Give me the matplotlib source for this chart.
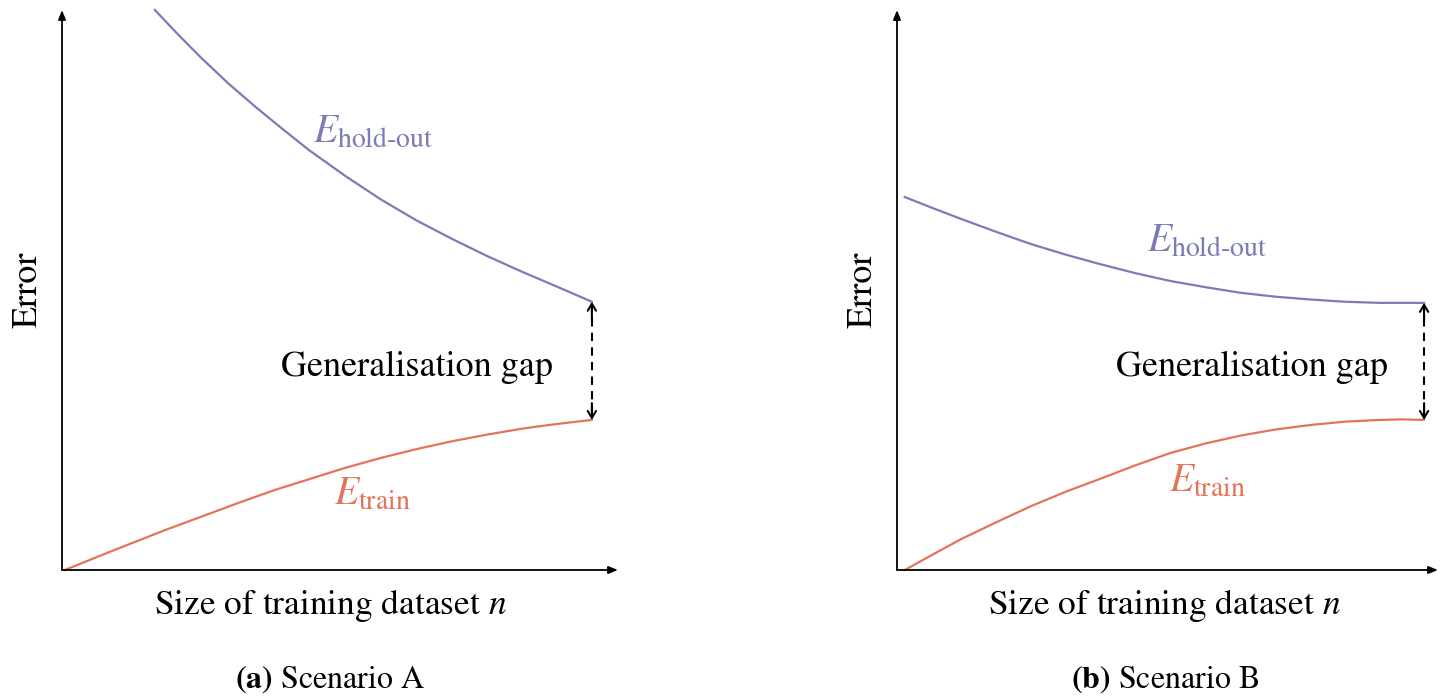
import matplotlib
matplotlib.use("Agg")
import matplotlib.pyplot as plt

plt.rcParams['font.family'] = ['STIXGeneral', 'DejaVu Serif']
plt.rcParams['mathtext.fontset'] = 'stix'

# curves (x: dataset size, y: error, arbitrary units)
a_hold_x = [1.67, 2.09, 2.51, 2.99, 3.48, 3.96, 4.44, 5.09, 5.73, 6.38, 7.02,
            7.66, 8.31, 8.95, 9.53]
a_hold_y = [10.0, 9.56, 9.14, 8.69, 8.27, 7.88, 7.50, 7.04, 6.62, 6.24, 5.91,
            5.60, 5.31, 5.04, 4.79]
a_train_x = [0.05, 0.95, 1.86, 2.50, 3.15, 3.80, 4.44, 5.08, 5.73, 6.38, 7.02,
             7.66, 8.31, 8.92, 9.53]
a_train_y = [0.0, 0.36, 0.715, 0.95, 1.19, 1.42, 1.62, 1.82, 2.00, 2.16, 2.30,
             2.42, 2.53, 2.61, 2.68]

b_hold_x = [0.14, 0.65, 1.15, 1.78, 2.41, 3.04, 3.66, 4.29, 4.92, 5.55, 6.18,
            6.81, 7.44, 8.06, 8.69, 9.48]
b_hold_y = [6.66, 6.46, 6.27, 6.04, 5.82, 5.63, 5.46, 5.30, 5.16, 5.05, 4.95,
            4.88, 4.83, 4.79, 4.77, 4.77]
b_train_x = [0.14, 0.65, 1.15, 1.78, 2.41, 3.04, 3.66, 4.29, 4.92, 5.55, 6.18,
             6.81, 7.44, 8.06, 8.69, 9.08, 9.48]
b_train_y = [0.0, 0.28, 0.55, 0.85, 1.14, 1.40, 1.63, 1.87, 2.09, 2.26, 2.40,
             2.51, 2.59, 2.65, 2.68, 2.69, 2.68]

hold_color = '#7b7bb6'
train_color = '#e4735b'

W, H = 1441, 699
fig = plt.figure(figsize=(W / 100, H / 100), dpi=100)


def draw_panel(rect, xmax, hx, hy, tx, ty, hold_pos, train_pos, gap_pos,
               xlab_x, sub_x, tag, name):
    ax = fig.add_axes(rect)
    ax.set_xlim(0, xmax)
    ax.set_ylim(0, 10)
    for s in ax.spines.values():
        s.set_visible(False)
    ax.set_xticks([])
    ax.set_yticks([])
    ax.patch.set_alpha(0)

    # axes with arrow heads
    ap = dict(arrowstyle='-|>,head_length=0.55,head_width=0.22', color='black',
              lw=1.3, shrinkA=0, shrinkB=0)
    ax.annotate('', xy=(1, 0), xytext=(0, 0), xycoords='axes fraction', arrowprops=ap)
    ax.annotate('', xy=(0, 1), xytext=(0, 0), xycoords='axes fraction', arrowprops=ap)

    ax.plot(hx, hy, color=hold_color, lw=1.6, clip_on=False)
    ax.plot(tx, ty, color=train_color, lw=1.6, clip_on=False)

    # dashed gap arrow between curve ends
    gx = hx[-1]
    ax.plot([gx, gx], [ty[-1] + 0.1, hy[-1] - 0.1], color='black', lw=1.5,
            linestyle=(0, (4, 3)))
    hp = dict(arrowstyle='->,head_length=0.5,head_width=0.3', color='black', lw=1.5,
              shrinkA=0, shrinkB=0)
    ax.annotate('', xy=(gx, hy[-1]), xytext=(gx, hy[-1] - 0.3), arrowprops=hp)
    ax.annotate('', xy=(gx, ty[-1]), xytext=(gx, ty[-1] + 0.3), arrowprops=hp)

    ax.text(*hold_pos, r'$E_{\mathrm{hold}\text{-}\mathrm{out}}$', color=hold_color,
            fontsize=28.5, ha='center', va='center')
    ax.text(*train_pos, r'$E_{\mathrm{train}}$', color=train_color,
            fontsize=28.5, ha='center', va='center')
    ax.text(*gap_pos, 'Generalisation gap', fontsize=26, ha='center', va='center')

    ax.text(-34 / (rect[2] * W), 0.5, 'Error', fontsize=26, rotation=90,
            ha='center', va='center', transform=ax.transAxes)
    ax.text(xlab_x, -36 / 560, r'Size of training dataset $n$', fontsize=25.5,
            ha='center', va='center', transform=ax.transAxes)
    ax.text(sub_x, -110 / 560, r'$\mathbf{(' + tag + r')}$ ' + name, fontsize=23,
            ha='center', va='center', transform=ax.transAxes)
    return ax


draw_panel([62 / W, 129 / H, 556 / W, 560 / H], 10.0,
           a_hold_x, a_hold_y, a_train_x, a_train_y,
           (5.59, 7.80), (5.58, 1.34), (6.38, 3.61),
           0.482, 0.482, 'a', 'Scenario A')

draw_panel([897 / W, 129 / H, 541 / W, 560 / H], 541 / 55.6,
           b_hold_x, b_hold_y, b_train_x, b_train_y,
           (5.58, 5.86), (5.58, 1.57), (6.38, 3.61),
           0.495, 0.495, 'b', 'Scenario B')

fig.savefig('out.png', dpi=100)
